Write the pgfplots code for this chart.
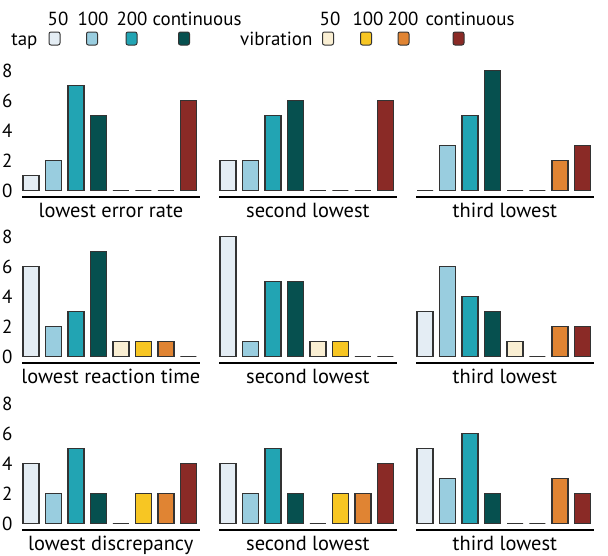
\documentclass[border=0pt]{standalone}
\usepackage{pgfplots}
\pgfplotsset{compat=1.18}
\usepackage{pgfplotstable}
\usepackage{fontspec}
\setmainfont{PT Sans}

\definecolor{c0}{HTML}{E4EDF4}
\definecolor{c1}{HTML}{99CDDF}
\definecolor{c2}{HTML}{22A4B3}
\definecolor{c3}{HTML}{06504F}
\definecolor{c4}{HTML}{FAEFD3}
\definecolor{c5}{HTML}{F7C623}
\definecolor{c6}{HTML}{E08433}
\definecolor{c7}{HTML}{8A2A26}
\definecolor{edge}{HTML}{333333}

% rows: tap 50/100/200/cont, vibration 50/100/200/cont; columns: the nine panels
\pgfplotstableread{
x p1 p2 p3 p4 p5 p6 p7 p8 p9
0 1  2  0  6  8  3  4  4  5
1 2  2  3  2  1  6  2  2  3
2 7  5  5  3  5  4  5  5  6
3 5  6  8  7  5  3  2  2  2
4 0  0  0  1  1  1  0  0  0
5 0  0  0  1  1  0  2  2  0
6 0  0  2  1  0  2  2  2  3
7 6  6  3  0  0  2  4  4  2
}\counts

\pgfplotsset{
  panel/.style={
    anchor=south west, scale only axis,
    width=177.75bp, height=126.3bp,
    xmin=-0.4, xmax=7.5, ymin=-0.42, ymax=8,
    axis lines*=left,
    y axis line style={draw=none},
    x axis line style={line width=2.6bp, black},
    xtick=\empty, ytick={0,2,...,8},
    major tick length=0pt,
    clip=false,
    /pgf/number format/assume math mode=true,
    yticklabel style={font=\fontsize{19}{22}\selectfont, xshift=-6bp},
    xlabel style={font=\fontsize{20.5}{24}\selectfont,
                  at={(axis description cs:0.5,0)}, anchor=base, yshift=-20bp},
  },
}

\newcommand{\panel}[4]{%
  \begin{axis}[panel, at={#1}, xlabel={#2}, #4]
    \pgfplotsinvokeforeach{0,...,7}{%
      \addplot[ybar, bar shift=0pt, bar width=16bp, fill=c##1, draw=edge, line width=1.1bp]
        table[x=x, y=#3, restrict x to domain=##1:##1] {\counts};
    }
  \end{axis}}

\begin{document}
\begin{tikzpicture}
\useasboundingbox (0,0) rectangle (608bp,-556bp);

\panel{(22bp,-197bp)}{lowest error rate}{p1}{}
\panel{(219bp,-197bp)}{second lowest}{p2}{ytick=\empty}
\panel{(416bp,-197bp)}{third lowest}{p3}{ytick=\empty}
\panel{(22bp,-363bp)}{lowest reaction time}{p4}{}
\panel{(219bp,-363bp)}{second lowest}{p5}{ytick=\empty}
\panel{(416bp,-363bp)}{third lowest}{p6}{ytick=\empty}
\panel{(22bp,-530bp)}{lowest discrepancy}{p7}{}
\panel{(219bp,-530bp)}{second lowest}{p8}{ytick=\empty}
\panel{(416bp,-530bp)}{third lowest}{p9}{ytick=\empty}

% legend
\begin{scope}[x=1bp, y=-1bp, font=\fontsize{19}{22}\selectfont]
  \node[anchor=base east] at (41,45) {tap};
  \node[anchor=base east] at (316,45) {vibration};
  \foreach \cx/\lx/\lab/\c in {54.5/58/50/c0, 92/93/100/c1, 131.5/132/200/c2, 184/197/continuous/c3,
                               328/330/50/c4, 366/368/100/c5, 403.5/403/200/c6, 458.5/470/continuous/c7} {
    \node[anchor=base] at (\lx,25) {\lab};
    \draw[fill=\c, draw=edge, line width=1bp, rounded corners=2bp]
      (\cx-5.5,32) rectangle (\cx+5.5,45);
  }
\end{scope}
\end{tikzpicture}
\end{document}
